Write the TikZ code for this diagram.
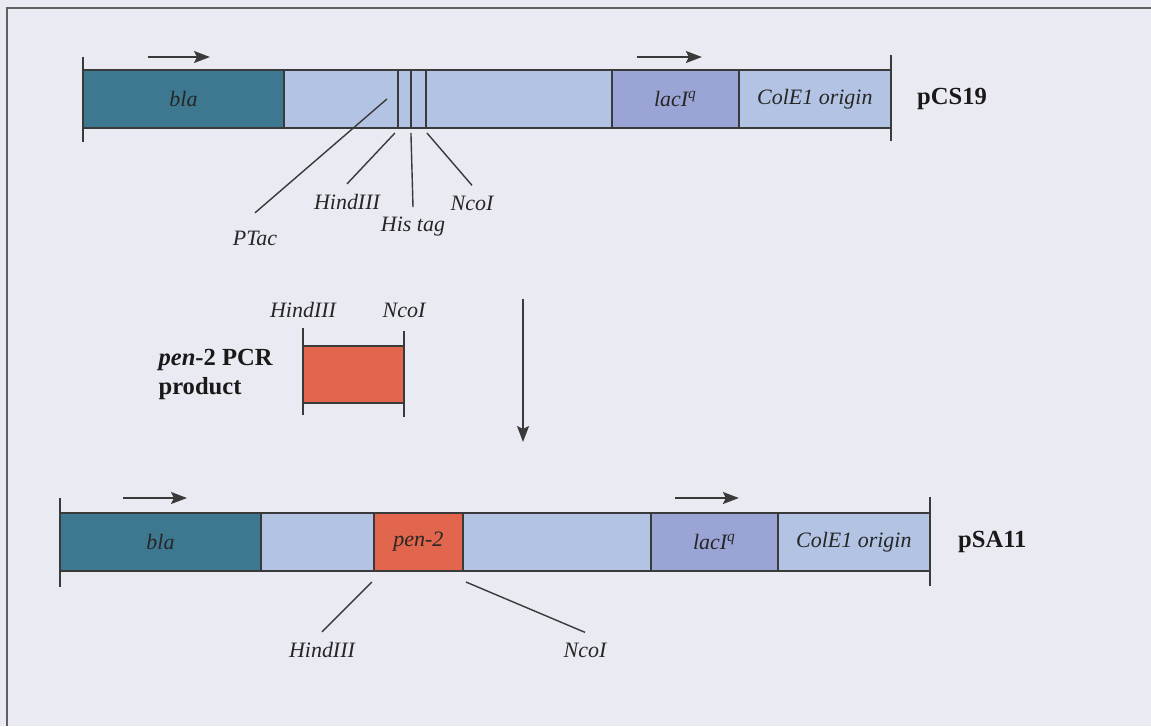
\documentclass[tikz,border=0pt]{standalone}
\usepackage{fontspec}
\setmainfont{Liberation Serif}
\usetikzlibrary{arrows.meta, positioning, calc}
\definecolor{BlaTeal}{HTML}{3E7890}
\definecolor{VecBlue}{HTML}{B3C3E3}
\definecolor{LacBlue}{HTML}{9AA5D6}
\definecolor{PenRed}{HTML}{E2654D}
\definecolor{PageBg}{HTML}{EAEAF3}
\definecolor{InkGray}{HTML}{3A3A3A}
\tikzset{
    seg/.style={rectangle, draw=InkGray, line width=0.9pt, inner sep=0pt, outer sep=0pt, minimum height=1.16cm, font=\fontsize{12.5}{15}\selectfont\itshape, text=black!85},
    seg_t/.style={seg, fill=BlaTeal},
    seg_b/.style={seg, fill=VecBlue},
    seg_l/.style={seg, fill=LacBlue},
    seg_r/.style={seg, fill=PenRed},
    site/.style={inner sep=0.2cm, font=\fontsize{12.5}{15}\selectfont\itshape, text=black!85},
    pname/.style={inner sep=0pt, font=\fontsize{14}{16.5}\selectfont\bfseries, align=left, text=black!90},
    endbar/.style={draw=InkGray, line width=0.9pt},
    lead/.style={draw=InkGray, line width=0.8pt},
    dirarr/.style={-{Stealth[length=0.32cm, width=0.24cm, inset=0.06cm]}, line width=1pt, draw=InkGray, fill=InkGray},
}

\begin{document}
\begin{tikzpicture}[x=0.02cm, y=-0.02cm]

\fill[PageBg] (0,0) rectangle (1151,726);
\useasboundingbox (0,0) rectangle (1151,726);
\draw[InkGray!80, line width=1pt] (7,726) -- (7,8) -- (1151,8);

% pCS19 vector
\node[seg_t, anchor=west, minimum width=4.02cm] (bla1) at (83,99) {bla};
\node[seg_b, right=0pt of bla1, minimum width=2.28cm] (mcs1a) {};
\node[seg_b, right=0pt of mcs1a, minimum width=0.26cm] (his1a) {};
\node[seg_b, right=0pt of his1a, minimum width=0.30cm] (his1b) {};
\node[seg_b, right=0pt of his1b, minimum width=3.72cm] (mcs1b) {};
\node[seg_l, right=0pt of mcs1b, minimum width=2.54cm] (lac1) {lacI\textsuperscript{q}};
\node[seg_b, right=0pt of lac1, minimum width=3.04cm] (ori1) {ColE1 origin};
\node[pname, right=0.52cm of ori1] (pcs19) {pCS19};

\draw[endbar] ([yshift=0.26cm]bla1.north west) -- ([yshift=-0.28cm]bla1.south west);
\draw[endbar] ([yshift=0.3cm]ori1.north east) -- ([yshift=-0.26cm]ori1.south east);

\coordinate (dir1) at ([shift={(1.3cm,0.26cm)}]bla1.north west);
\coordinate (dir2) at ([shift={(0.5cm,0.26cm)}]lac1.north west);
\draw[dirarr] (dir1) -- ++(1.24cm,0);
\draw[dirarr] (dir2) -- ++(1.3cm,0);

% sites on pCS19
\node[site] (ptac) at (255,238) {PTac};
\node[site] (hind1) at (347,202) {HindIII};
\node[site] (histag) at (413,227) {His tag};
\node[site] (nco1) at (472,203) {NcoI};
\draw[lead] ([yshift=0.15cm]ptac.north) -- ([xshift=-0.22cm]mcs1a.east);
\draw[lead] (hind1.north) -- ([shift={(-0.06cm,-0.1cm)}]his1a.south west);
\draw[lead] (histag.north) -- ([yshift=-0.1cm]his1a.south east);
\draw[lead] (nco1.north) -- ([shift={(0.02cm,-0.1cm)}]his1b.south east);

% insert
\coordinate (ins_top) at (523,299);
\coordinate (ins_bot) at (523,442);
\draw[dirarr] (ins_top) -- (ins_bot);

\node[seg_r, minimum width=2.02cm, minimum height=1.14cm] (pcr) at (353.5,374.5) {};
\draw[endbar] ([yshift=0.36cm]pcr.north west) -- ([yshift=-0.24cm]pcr.south west);
\draw[endbar] ([yshift=0.3cm]pcr.north east) -- ([yshift=-0.28cm]pcr.south east);
\node[site, anchor=south] (hind_pcr) at ([yshift=0.36cm]pcr.north west) {HindIII};
\node[site, anchor=south] (nco_pcr) at ([yshift=0.36cm]pcr.north east) {NcoI};
\node[pname, left=0.6cm of pcr] (pcr_lbl) {\textit{pen}-2 PCR\\product};

% pSA11 construct
\node[seg_t, anchor=west, minimum width=4.02cm] (bla2) at (60,542) {bla};
\node[seg_b, right=0pt of bla2, minimum width=2.26cm] (mcs2a) {};
\node[seg_r, right=0pt of mcs2a, minimum width=1.78cm] (pen2) {pen-2};
\node[seg_b, right=0pt of pen2, minimum width=3.76cm] (mcs2b) {};
\node[seg_l, right=0pt of mcs2b, minimum width=2.54cm] (lac2) {lacI\textsuperscript{q}};
\node[seg_b, right=0pt of lac2, minimum width=3.04cm] (ori2) {ColE1 origin};
\node[pname, right=0.56cm of ori2] (psa11) {pSA11};

\draw[endbar] ([yshift=0.3cm]bla2.north west) -- ([yshift=-0.32cm]bla2.south west);
\draw[endbar] ([yshift=0.32cm]ori2.north east) -- ([yshift=-0.3cm]ori2.south east);

\coordinate (dir3) at ([shift={(1.26cm,0.3cm)}]bla2.north west);
\coordinate (dir4) at ([shift={(0.48cm,0.3cm)}]lac2.north west);
\draw[dirarr] (dir3) -- ++(1.28cm,0);
\draw[dirarr] (dir4) -- ++(1.28cm,0);

% sites on pSA11
\node[site] (hind2) at (322,650) {HindIII};
\node[site] (nco2) at (585,650) {NcoI};
\draw[lead] (hind2.north) -- ([shift={(-0.04cm,-0.22cm)}]pen2.south west);
\draw[lead] (nco2.north) -- ([shift={(0.06cm,-0.22cm)}]pen2.south east);

\end{tikzpicture}
\end{document}
